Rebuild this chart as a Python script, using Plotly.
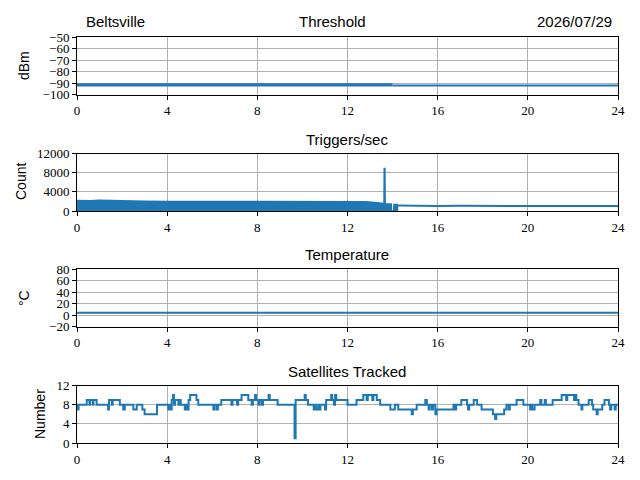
import plotly.graph_objects as go
from plotly.subplots import make_subplots

# Threshold (dBm)
thr_early_hours = [0, 14.0]
thr_early_dbm = [-91.6, -91.6]
thr_late_hours = [14.0, 24]
thr_late_dbm = [-92, -92]

# Triggers/sec: dense band (upper envelope) then a single line
trig_band_hours = [0, 0.3, 0.6, 1.0, 1.3, 2.0, 3.0, 4.0, 5.0, 6.0, 7.0, 8.0, 9.0,
                   10.0, 11.0, 12.0, 12.4, 12.8, 13.2, 13.55, 13.62, 13.63, 13.66,
                   13.67, 13.94, 13.95, 14.05, 14.06, 14.25]
trig_band_counts = [2200, 2150, 2150, 2250, 2200, 2100, 2050, 2000, 2000, 1950,
                    2000, 2000, 2000, 2000, 2000, 2000, 2100, 1950, 1800, 1600,
                    1600, 8900, 8900, 1500, 1500, 0, 0, 1400, 1400]
trig_tail_hours = [14.25, 15, 16, 17, 18, 19, 20, 21, 22, 23, 24]
trig_tail_counts = [1150, 1050, 1050, 1100, 1100, 1150, 1150, 1100, 1100, 1050, 1050]

# Temperature (deg C)
temp_hours = [0, 6, 12, 18, 24]
temp_c = [4, 4, 4, 4, 4]

# Satellites tracked (step series)
sat_hours = [0.00, 0.03, 0.07, 0.43, 0.55, 0.58, 0.70, 0.73, 0.87, 1.38, 1.42,
             1.55, 1.58, 1.90, 2.05, 2.12, 2.50, 2.65, 2.90, 3.00, 3.55, 4.05,
             4.08, 4.15, 4.20, 4.26, 4.30, 4.35, 4.50, 4.55, 4.60, 4.78, 4.83,
             4.90, 4.95, 5.02, 5.30, 5.38, 6.05, 6.10, 6.20, 6.25, 6.40, 6.85,
             6.90, 7.10, 7.15, 7.30, 7.60, 7.75, 7.80, 7.90, 7.95, 8.05, 8.10,
             8.20, 8.25, 8.50, 8.55, 8.90, 9.65, 9.70, 10.10, 10.15, 10.25,
             10.50, 10.55, 10.60, 10.70, 10.75, 10.80, 11.00, 11.05, 11.28,
             11.32, 11.40, 11.45, 11.50, 12.00, 12.40, 12.70, 12.85, 12.90,
             13.10, 13.15, 13.30, 13.45, 13.90, 14.10, 14.25, 14.85, 14.90,
             15.07, 15.45, 15.52, 15.60, 15.65, 15.75, 15.80, 15.90, 15.95,
             16.70, 16.78, 16.82, 17.05, 17.30, 17.35, 17.40, 17.60, 17.75,
             17.95, 18.45, 18.55, 18.60, 18.95, 19.05, 19.15, 19.20, 19.50,
             19.80, 20.10, 20.15, 20.20, 20.30, 20.55, 20.60, 20.75, 20.80,
             21.10, 21.50, 21.70, 21.75, 22.05, 22.10, 22.15, 22.25, 22.38,
             22.42, 22.70, 22.85, 22.90, 23.05, 23.10, 23.30, 23.40, 23.60,
             23.65, 23.70, 23.85, 23.90, 24.00]
sat_counts = [8, 7, 8, 9, 8, 9, 8, 9, 8, 7, 9,
              8, 9, 8, 7, 8, 7, 8, 7, 6, 8, 7,
              8, 7, 9, 10, 8, 9, 8, 9, 8, 7, 8,
              7, 9, 10, 9, 8, 7, 8, 7, 8, 9, 8,
              9, 8, 9, 10, 9, 8, 9, 10, 9, 8, 9,
              8, 9, 10, 9, 8, 1, 9, 10, 9, 8,
              7, 8, 7, 8, 7, 8, 7, 9, 10,
              9, 8, 10, 9, 8, 9, 10, 9, 10,
              9, 10, 9, 8, 7, 8, 7, 6, 7,
              8, 9, 8, 7, 8, 7, 8, 6, 7,
              8, 7, 8, 9, 8, 7, 8, 9, 8,
              7, 6, 5, 6, 7, 8, 7, 8, 9,
              8, 7, 8, 7, 8, 9, 8, 9, 8,
              9, 10, 9, 10, 9, 10, 9, 8, 7,
              8, 9, 8, 7, 6, 7, 8, 9, 8,
              7, 8, 7, 8, 8]

hour_ticks = [0, 4, 8, 12, 16, 20, 24]
thr_ticks = [-100, -90, -80, -70, -60, -50]
trig_ticks = [0, 4000, 8000, 12000]
temp_ticks = [-20, 0, 20, 40, 60, 80]
sat_ticks = [0, 4, 8, 12]

BLUE = '#1f77b4'
W, H = 640, 480


def tick_text(vals):
    return [str(v).replace('-', '\u2212') for v in vals]


fig = make_subplots(rows=4, cols=1)

fig.add_trace(go.Scatter(x=thr_early_hours, y=thr_early_dbm, mode='lines',
                         line=dict(color=BLUE, width=3.2)), row=1, col=1)
fig.add_trace(go.Scatter(x=thr_late_hours, y=thr_late_dbm, mode='lines',
                         line=dict(color=BLUE, width=2)), row=1, col=1)
fig.add_trace(go.Scatter(x=trig_band_hours, y=trig_band_counts, mode='lines',
                         fill='tozeroy', fillcolor=BLUE,
                         line=dict(color=BLUE, width=1.5)), row=2, col=1)
fig.add_trace(go.Scatter(x=trig_tail_hours, y=trig_tail_counts, mode='lines',
                         line=dict(color=BLUE, width=2)), row=2, col=1)
fig.add_trace(go.Scatter(x=temp_hours, y=temp_c, mode='lines',
                         line=dict(color=BLUE, width=2)), row=3, col=1)
fig.add_trace(go.Scatter(x=sat_hours, y=sat_counts, mode='lines',
                         line=dict(color=BLUE, width=2, shape='hv')), row=4, col=1)

# axes rectangles in pixels (top, bottom)
rows_px = [(37, 94.6), (153.5, 211.1), (269, 326.6), (385.5, 443.1)]
x_dom = [77 / W, 618 / W]
y_setup = [(thr_ticks, [-100, -50]), (trig_ticks, [0, 12000]),
           (temp_ticks, [-20, 80]), (sat_ticks, [0, 12])]

axis_style = dict(showline=True, linecolor='black', linewidth=1, mirror=True,
                  ticks='outside', ticklen=4, tickcolor='black', tickwidth=1,
                  showgrid=True, gridcolor='#b0b0b0', gridwidth=1,
                  zeroline=False, automargin=False,
                  tickfont=dict(family='Liberation Serif', size=13, color='black'))

for i, ((top, bot), (ticks, rng)) in enumerate(zip(rows_px, y_setup), start=1):
    fig.update_xaxes(domain=x_dom, range=[0, 24], tickvals=hour_ticks,
                     ticktext=tick_text(hour_ticks), row=i, col=1, **axis_style)
    fig.update_yaxes(domain=[1 - bot / H, 1 - top / H], range=rng,
                     tickvals=ticks, ticktext=tick_text(ticks),
                     row=i, col=1, **axis_style)

title_font = dict(family='Liberation Sans', size=15, color='black')
label_font = dict(family='Liberation Sans', size=14, color='black')

annotations = [
    dict(text='Beltsville', x=84 / W, y=1 - 22 / H, xanchor='left'),
    dict(text='Threshold', x=332 / W, y=1 - 22 / H, xanchor='center'),
    dict(text='2026/07/29', x=614 / W, y=1 - 22 / H, xanchor='right'),
    dict(text='Triggers/sec', x=347 / W, y=1 - 139 / H, xanchor='center'),
    dict(text='Temperature', x=347 / W, y=1 - 254 / H, xanchor='center'),
    dict(text='Satellites Tracked', x=347 / W, y=1 - 371 / H, xanchor='center'),
]
for a in annotations:
    a.update(xref='paper', yref='paper', yanchor='middle', showarrow=False,
             font=title_font)

y_labels = [('dBm', 24, 66), ('Count', 21, 182), ('°C', 24, 298), ('Number', 40, 414)]
for text, px, py in y_labels:
    annotations.append(dict(text=text, x=px / W, y=1 - py / H, xref='paper',
                            yref='paper', xanchor='center', yanchor='middle',
                            textangle=-90, showarrow=False, font=label_font))

fig.update_layout(
    width=W, height=H,
    margin=dict(l=0, r=0, t=0, b=0),
    paper_bgcolor='white', plot_bgcolor='white',
    showlegend=False,
    annotations=annotations,
)

# drop the page's default body margin so the figure sits at the window corner
fig.write_html("out.html", config={'displayModeBar': False},
               post_script="document.body.style.margin = '0';")
